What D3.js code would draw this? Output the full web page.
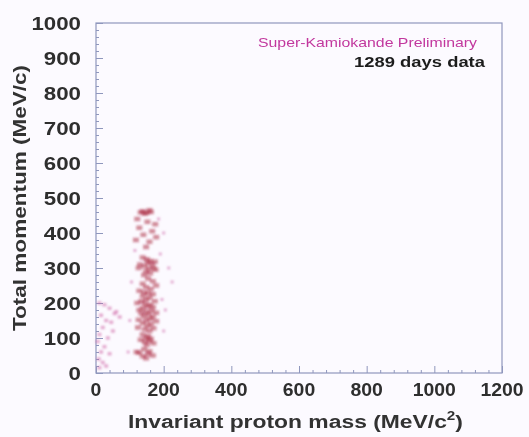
<!DOCTYPE html>
<html>
<head>
<meta charset="utf-8">
<script src="https://cdn.jsdelivr.net/npm/d3@7"></script>
<style>
  html, body { margin: 0; padding: 0; background: #fcfaff; }
  svg { display: block; }
</style>
</head>
<body>
<svg id="chart" width="529" height="437"></svg>
<script>
// Events near the pi0 mass band: invariant mass (MeV/c^2) and total momentum (MeV/c)
const pi0Mass = [138,150,158,144,162,132, 122,152,175,128,166,140,178,118,158,148,
  138,150,160,152,166,144,170,156,130,174,148,160,176,142,126,
  154,168,138,178,148,162,
  128,142,154,168,138,158,148,134,174,122,144,160,152,168,138,128,164,148,178,134,156,142,168,160,126,148,178,138,162,152,124,170,144,158,
  138,154,148,162,132,158,144,170,150,
  142,158,128,154,168,138,148,120];
const pi0Mom = [462,458,465,455,460,459, 440,432,425,415,405,395,388,380,375,360,
  330,325,320,315,310,305,300,298,310,318,290,285,295,280,300,
  270,262,255,250,245,240,
  235,230,228,225,220,215,210,205,205,200,198,195,190,188,185,180,178,175,172,170,168,162,160,155,152,150,148,142,140,135,130,128,125,120,
  110,105,100,98,95,92,88,85,80,
  68,62,58,55,50,48,42,60];

// Low invariant-mass events
const lowMass = [10,25,40,55,15,30,45,20,50,10,35,5,25,15,40,8,20,30,10,60,70];
const lowMom  = [200,195,185,170,165,150,145,130,120,110,100,90,75,60,55,40,30,20,15,175,160];

// Sparse events around the band
const haloMass = [100,195,205,105,215,190,200,95,200,185,225,115];
const haloMom  = [150,210,180,260,300,340,120,60,400,440,260,350];

const xTicks = [0, 200, 400, 600, 800, 1000, 1200];
const yTicks = [0, 100, 200, 300, 400, 500, 600, 700, 800, 900, 1000];

const svg = d3.select("#chart");
const defs = svg.append("defs");
defs.append("filter").attr("id", "soft")
  .append("feGaussianBlur").attr("stdDeviation", 0.75);
defs.append("filter").attr("id", "softer")
  .append("feGaussianBlur").attr("stdDeviation", 1.1);

const L = 96, R = 502, T = 23, B = 373;
const x = d3.scaleLinear().domain([0, 1200]).range([L, R]);
const y = d3.scaleLinear().domain([0, 1000]).range([B, T]);

const frameColor = "#8f97bd";
const g = svg.append("g").attr("filter", "url(#soft)");

// Frame
g.append("rect").attr("x", L).attr("y", T).attr("width", R - L).attr("height", B - T)
  .attr("fill", "none").attr("stroke", frameColor).attr("stroke-width", 1.2);

// Axes with inward ticks
const yAxis = d3.axisLeft(y).tickValues(d3.range(0, 1001, 20)).tickSize(-4).tickFormat("");
g.append("g").attr("transform", `translate(${L},0)`).call(yAxis)
  .call(s => s.select(".domain").remove())
  .selectAll("line").attr("stroke", frameColor).attr("x2", d => d % 100 === 0 ? 7 : 3);
const xAxis = d3.axisBottom(x).tickValues(d3.range(0, 1201, 40)).tickSize(-4).tickFormat("");
g.append("g").attr("transform", `translate(0,${B})`).call(xAxis)
  .call(s => s.select(".domain").remove())
  .selectAll("line").attr("stroke", frameColor).attr("y2", d => d % 200 === 0 ? -7 : -3);

// Tick labels
const tickFont = "'Liberation Sans', Arial, sans-serif";
g.append("g").selectAll("text").data(yTicks).join("text")
  .attr("x", 81).attr("y", d => y(d) + 7)
  .attr("text-anchor", "end")
  .attr("font-family", tickFont).attr("font-weight", "bold").attr("font-size", 19)
  .attr("fill", "#2e2e2e")
  .attr("textLength", d => String(d).length * 12.4).attr("lengthAdjust", "spacingAndGlyphs")
  .text(d => d);
g.append("g").selectAll("text").data(xTicks).join("text")
  .attr("x", d => x(d)).attr("y", 396)
  .attr("text-anchor", "middle")
  .attr("font-family", tickFont).attr("font-weight", "bold").attr("font-size", 19)
  .attr("fill", "#2e2e2e")
  .attr("textLength", d => String(d).length * 10.8).attr("lengthAdjust", "spacingAndGlyphs")
  .text(d => d);

// Axis titles
const xt = g.append("text").attr("x", 128).attr("y", 428)
  .attr("font-family", tickFont).attr("font-weight", "bold").attr("font-size", 18)
  .attr("fill", "#333")
  .attr("textLength", 335).attr("lengthAdjust", "spacingAndGlyphs");
xt.append("tspan").text("Invariant proton mass (MeV/c");
xt.append("tspan").attr("font-size", 12).attr("dy", -8).text("2");
xt.append("tspan").attr("dy", 8).text(")");

g.append("text")
  .attr("transform", "translate(26,331) rotate(-90)")
  .attr("font-family", tickFont).attr("font-weight", "bold").attr("font-size", 18)
  .attr("fill", "#333")
  .attr("textLength", 266).attr("lengthAdjust", "spacingAndGlyphs")
  .text("Total momentum (MeV/c)");

// Annotations
g.append("text").attr("x", 477).attr("y", 47).attr("text-anchor", "end")
  .attr("font-family", tickFont).attr("font-size", 13).attr("fill", "#c2389e")
  .attr("textLength", 219).attr("lengthAdjust", "spacingAndGlyphs")
  .text("Super-Kamiokande Preliminary");
g.append("text").attr("x", 485).attr("y", 67).attr("text-anchor", "end")
  .attr("font-family", tickFont).attr("font-weight", "bold").attr("font-size", 15)
  .attr("fill", "#1e1e1e")
  .attr("textLength", 131).attr("lengthAdjust", "spacingAndGlyphs")
  .text("1289 days data");

// Events
const pts = svg.append("g").attr("filter", "url(#softer)");
function drawEvents(mass, mom, color, op, w, h) {
  const data = d3.zip(mass, mom);
  pts.append("g").selectAll("rect").data(data).join("rect")
    .attr("x", d => x(d[0]) - w / 2).attr("y", d => y(d[1]) - h / 2)
    .attr("width", w).attr("height", h)
    .attr("fill", color).attr("fill-opacity", op);
}
drawEvents(haloMass, haloMom, "#d27ab4", 0.6, 3, 3);
drawEvents(lowMass, lowMom, "#cf6aa8", 0.55, 4, 3.5);
drawEvents(pi0Mass, pi0Mom, "#a8203a", 0.5, 6, 4.5);
</script>
</body>
</html>
